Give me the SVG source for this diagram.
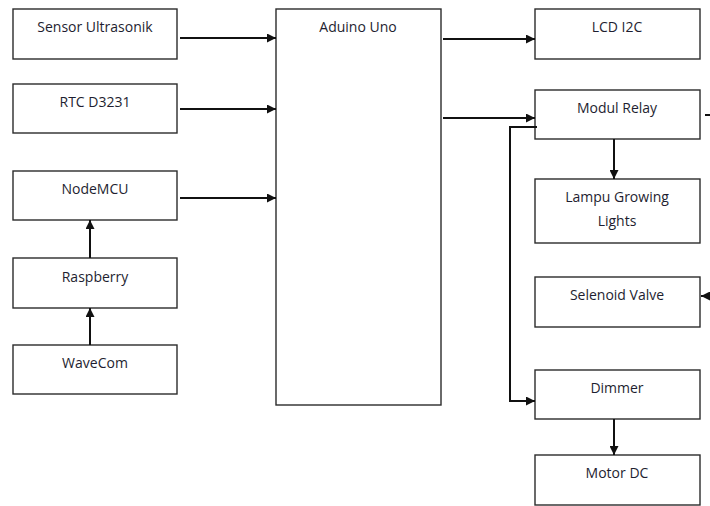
<svg xmlns="http://www.w3.org/2000/svg" width="710" height="506" viewBox="0 0 710 506">
<style>
.box{fill:#fff;stroke:#2b2b2b;stroke-width:1.4}
.t{font-family:"Open Sans","Liberation Sans",Arial,sans-serif;font-size:14px;fill:#1e1e30;text-anchor:middle}
.c{fill:none;stroke:#111;stroke-width:2}
</style>
<defs>
<marker id="ah" viewBox="0 0 10 10" refX="10" refY="5" markerWidth="4.5" markerHeight="4.5" orient="auto" markerUnits="strokeWidth">
<path d="M0,0 L10,5 L0,10 z" fill="#111"/>
</marker>
</defs>
<rect width="710" height="506" fill="#fff"/>
<g id="sensor"><rect class="box" x="13" y="9" width="164" height="50"/><text class="t" x="95" y="32">Sensor Ultrasonik</text></g>
<g id="rtc"><rect class="box" x="13" y="84" width="164" height="49"/><text class="t" x="95" y="107">RTC D3231</text></g>
<g id="nodemcu"><rect class="box" x="13" y="171" width="164" height="49"/><text class="t" x="95" y="194">NodeMCU</text></g>
<g id="raspberry"><rect class="box" x="13" y="258" width="164" height="50"/><text class="t" x="95" y="282">Raspberry</text></g>
<g id="wavecom"><rect class="box" x="13" y="345" width="164" height="49"/><text class="t" x="95" y="368">WaveCom</text></g>
<g id="arduino"><rect class="box" x="276" y="9" width="165" height="396"/><text class="t" x="358" y="32">Aduino Uno</text></g>
<g id="lcd"><rect class="box" x="535" y="9" width="165" height="50"/><text class="t" x="617" y="32">LCD I2C</text></g>
<g id="relay"><rect class="box" x="535" y="90" width="165" height="49"/><text class="t" x="617" y="113">Modul Relay</text></g>
<g id="lampu"><rect class="box" x="535" y="179" width="165" height="64"/><text class="t" x="617" y="202">Lampu Growing</text><text class="t" x="617" y="226">Lights</text></g>
<g id="selenoid"><rect class="box" x="535" y="277" width="165" height="50"/><text class="t" x="617" y="300">Selenoid Valve</text></g>
<g id="dimmer"><rect class="box" x="535" y="370" width="165" height="49"/><text class="t" x="617" y="393">Dimmer</text></g>
<g id="motor"><rect class="box" x="535" y="455" width="165" height="50"/><text class="t" x="617" y="478">Motor DC</text></g>
<g id="connectors">
<path class="c" d="M180 38 H276" marker-end="url(#ah)"/>
<path class="c" d="M180 109 H276" marker-end="url(#ah)"/>
<path class="c" d="M180 198 H276" marker-end="url(#ah)"/>
<path class="c" d="M90 258 V220" marker-end="url(#ah)"/>
<path class="c" d="M90 345 V308" marker-end="url(#ah)"/>
<path class="c" d="M443 39 H535" marker-end="url(#ah)"/>
<path class="c" d="M443 118 H535" marker-end="url(#ah)"/>
<path class="c" d="M614 139 V179" marker-end="url(#ah)"/>
<path class="c" d="M537 127 H510 V401 H535" marker-end="url(#ah)"/>
<path class="c" d="M614 419 V455" marker-end="url(#ah)"/>
<path class="c" d="M705 115 H710"/>
<path class="c" d="M710 296 H701" marker-end="url(#ah)"/>
</g>
</svg>
